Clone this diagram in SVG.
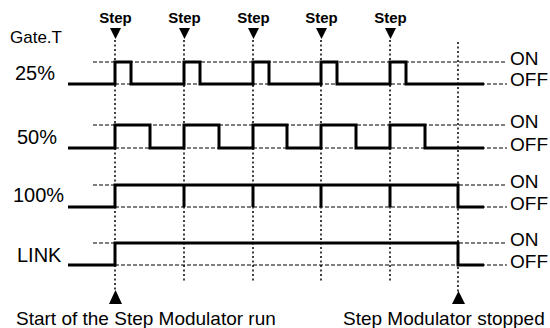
<svg xmlns="http://www.w3.org/2000/svg" width="550" height="328" viewBox="0 0 550 328">
<style>
text{font-family:"Liberation Sans",Arial,sans-serif;fill:#000}
.lbl{font-size:20px}
.st{font-size:15px;font-weight:bold}
.oo{font-size:19px}
.bt{font-size:19px}
.wave{fill:none;stroke:#000;stroke-width:3;stroke-linejoin:miter}
.dash{fill:none;stroke:#000;stroke-width:1.2;stroke-dasharray:4 2}
.dot{fill:none;stroke:#000;stroke-width:1.5;stroke-dasharray:2 2.5}
</style>
<rect width="550" height="328" fill="#fff"/>
<g id="connectors">
<path class="dot" d="M115,40V290M184,40V282M253,40V282M321,40V282M390,40V282M458,42V292"/>
</g>
<g id="steps">
<g id="step1"><text class="st" x="115.5" y="23" text-anchor="middle">Step</text><polygon points="110,28 121,28 115.5,39"/></g>
<g id="step2"><text class="st" x="184.5" y="23" text-anchor="middle">Step</text><polygon points="179,28 190,28 184.5,39"/></g>
<g id="step3"><text class="st" x="253.5" y="23" text-anchor="middle">Step</text><polygon points="248,28 259,28 253.5,39"/></g>
<g id="step4"><text class="st" x="321.5" y="23" text-anchor="middle">Step</text><polygon points="316,28 327,28 321.5,39"/></g>
<g id="step5"><text class="st" x="390.5" y="23" text-anchor="middle">Step</text><polygon points="385,28 396,28 390.5,39"/></g>
</g>
<text x="10" y="43" font-size="17">Gate.T</text>
<g id="row25">
<text class="lbl" x="15" y="80">25%</text>
<path class="dash" d="M93,62H507M115,84H507"/>
<path class="wave" d="M68,84H115V62H131V84H184V62H200V84H253V62H269V84H321V62H337V84H390V62H406V84H484"/>
<text class="oo" x="510" y="65">ON</text>
<text class="oo" x="510" y="86">OFF</text>
</g>
<g id="row50">
<text class="lbl" x="17" y="144">50%</text>
<path class="dash" d="M93,125H507M115,148H507"/>
<path class="wave" d="M68,148H115V125H150V148H184V125H219V148H253V125H287V148H321V125H356V148H390V125H425V148H484"/>
<text class="oo" x="510" y="128">ON</text>
<text class="oo" x="510" y="151">OFF</text>
</g>
<g id="row100">
<text class="lbl" x="13" y="202">100%</text>
<path class="dash" d="M93,185H507M115,207H507"/>
<path class="wave" d="M68,207H115V185H458V207H484M184,185V207M253,185V207M321,185V207M390,185V207"/>
<text class="oo" x="510" y="188">ON</text>
<text class="oo" x="510" y="210">OFF</text>
</g>
<g id="rowlink">
<text class="lbl" x="17" y="262">LINK</text>
<path class="dash" d="M93,243H507M115,265H507"/>
<path class="wave" d="M68,265H115V243H458V265H484"/>
<text class="oo" x="510" y="246">ON</text>
<text class="oo" x="510" y="268">OFF</text>
</g>
<g id="start">
<polygon points="109,304 122,304 115.5,290"/>
<text class="bt" x="16" y="325">Start of the Step Modulator run</text>
</g>
<g id="stop">
<polygon points="452,304 465,304 458.5,291"/>
<text class="bt" x="343" y="325">Step Modulator stopped</text>
</g>
</svg>
